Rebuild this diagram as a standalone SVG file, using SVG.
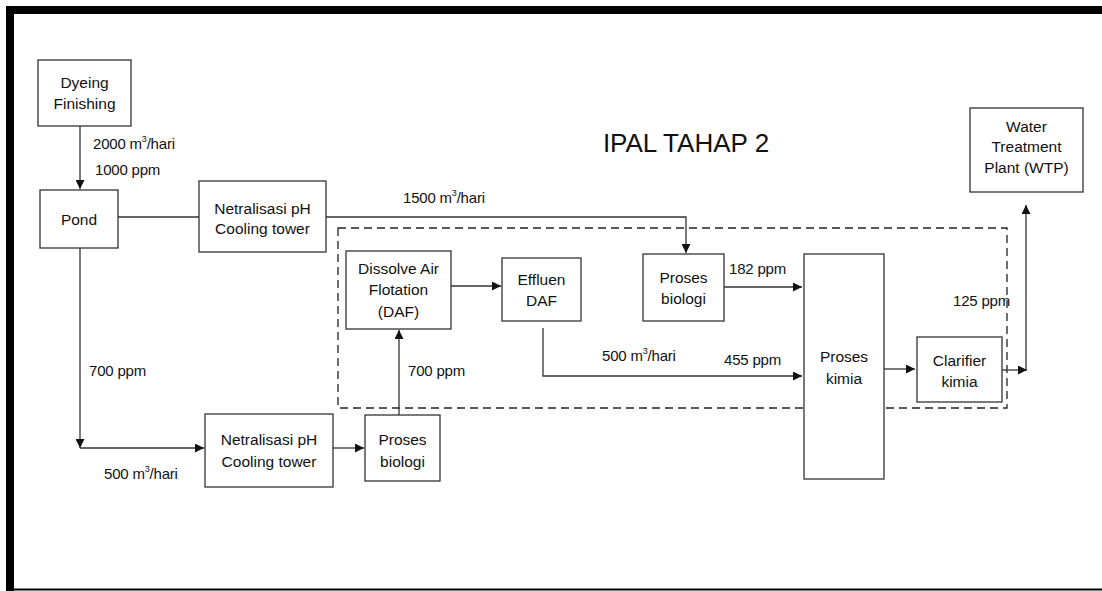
<svg xmlns="http://www.w3.org/2000/svg" width="1102" height="591" viewBox="0 0 1102 591">
<style>
  .box { fill: #fff; stroke: #333; stroke-width: 1.3; }
  .t { font-family: "Liberation Sans", Arial, sans-serif; font-size: 15.5px; fill: #111; text-anchor: middle; }
  .l { font-family: "Liberation Sans", Arial, sans-serif; font-size: 15px; fill: #111; letter-spacing: -0.2px; }
  .sup { font-size: 9px; }
  .c { fill: none; stroke: #333; stroke-width: 1.3; }
  .dash { fill: none; stroke: #222; stroke-width: 1.3; stroke-dasharray: 8 5; }
</style>
<defs>
  <marker id="arr" viewBox="0 0 10 10" refX="10" refY="5" markerWidth="9" markerHeight="9" markerUnits="userSpaceOnUse" orient="auto">
    <path d="M0,0 L10,5 L0,10 z" fill="#111"/>
  </marker>
</defs>
<rect width="1102" height="591" fill="#fff"/>
<g id="frame">
  <rect x="6" y="6" width="1096" height="8" fill="#000"/>
  <rect x="6" y="6" width="8" height="585" fill="#000"/>
  <rect x="6" y="588.5" width="1096" height="2" fill="#000"/>
</g>
<text class="t" x="686" y="152" style="font-size:26px">IPAL TAHAP 2</text>
<rect id="boundary" class="dash" x="338" y="228" width="669" height="180"/>
<g id="connectors">
  <line class="c" x1="80" y1="126" x2="80" y2="189" marker-end="url(#arr)"/>
  <line class="c" x1="118" y1="217" x2="199" y2="217"/>
  <polyline class="c" points="326,217 686,217 686,253" marker-end="url(#arr)"/>
  <line class="c" x1="80" y1="248" x2="80" y2="448" marker-end="url(#arr)"/>
  <line class="c" x1="80" y1="448" x2="204" y2="448" marker-end="url(#arr)"/>
  <line class="c" x1="333" y1="448" x2="364" y2="448" marker-end="url(#arr)"/>
  <line class="c" x1="399" y1="415" x2="399" y2="330" marker-end="url(#arr)"/>
  <line class="c" x1="451" y1="286" x2="501" y2="286" marker-end="url(#arr)"/>
  <polyline class="c" points="543,328 543,376 802,376" marker-end="url(#arr)"/>
  <line class="c" x1="724" y1="287" x2="802" y2="287" marker-end="url(#arr)"/>
  <line class="c" x1="884" y1="369" x2="915" y2="369" marker-end="url(#arr)"/>
  <line class="c" x1="1002" y1="370" x2="1027" y2="370" marker-end="url(#arr)"/>
  <line class="c" x1="1026" y1="370" x2="1026" y2="205" marker-end="url(#arr)"/>
</g>
<g id="labels">
  <text class="l" x="93" y="149">2000 m<tspan class="sup" dy="-7">3</tspan><tspan dy="7">/hari</tspan></text>
  <text class="l" x="95" y="175">1000 ppm</text>
  <text class="l" x="403" y="203">1500 m<tspan class="sup" dy="-7">3</tspan><tspan dy="7">/hari</tspan></text>
  <text class="l" x="89" y="376">700 ppm</text>
  <text class="l" x="104" y="479">500 m<tspan class="sup" dy="-7">3</tspan><tspan dy="7">/hari</tspan></text>
  <text class="l" x="408" y="376">700 ppm</text>
  <text class="l" x="602" y="361">500 m<tspan class="sup" dy="-7">3</tspan><tspan dy="7">/hari</tspan></text>
  <text class="l" x="724" y="365">455 ppm</text>
  <text class="l" x="729" y="274">182 ppm</text>
  <text class="l" x="953" y="306">125 ppm</text>
</g>
<g id="dyeing">
  <rect class="box" x="38" y="60" width="93" height="66"/>
  <text class="t" x="84.5" y="88">Dyeing</text>
  <text class="t" x="84.5" y="109">Finishing</text>
</g>
<g id="pond">
  <rect class="box" x="40" y="190" width="78" height="58"/>
  <text class="t" x="79" y="225">Pond</text>
</g>
<g id="netralisasi1">
  <rect class="box" x="199" y="181" width="127" height="71"/>
  <text class="t" x="262.5" y="214">Netralisasi pH</text>
  <text class="t" x="262.5" y="234">Cooling tower</text>
</g>
<g id="netralisasi2">
  <rect class="box" x="205" y="414" width="128" height="73"/>
  <text class="t" x="269" y="445">Netralisasi pH</text>
  <text class="t" x="269" y="467">Cooling tower</text>
</g>
<g id="biologi2">
  <rect class="box" x="365" y="415" width="75" height="66"/>
  <text class="t" x="402.5" y="445">Proses</text>
  <text class="t" x="402.5" y="467">biologi</text>
</g>
<g id="daf">
  <rect class="box" x="346" y="251" width="105" height="78"/>
  <text class="t" x="398.5" y="274">Dissolve Air</text>
  <text class="t" x="398.5" y="295">Flotation</text>
  <text class="t" x="398.5" y="317">(DAF)</text>
</g>
<g id="effluen">
  <rect class="box" x="502" y="258" width="79" height="63"/>
  <text class="t" x="541.5" y="285">Effluen</text>
  <text class="t" x="541.5" y="306">DAF</text>
</g>
<g id="biologi1">
  <rect class="box" x="643" y="254" width="81" height="67"/>
  <text class="t" x="683.5" y="283">Proses</text>
  <text class="t" x="683.5" y="304">biologi</text>
</g>
<g id="kimia">
  <rect class="box" x="804" y="254" width="80" height="225"/>
  <text class="t" x="844" y="362">Proses</text>
  <text class="t" x="844" y="384">kimia</text>
</g>
<g id="clarifier">
  <rect class="box" x="917" y="337" width="85" height="65"/>
  <text class="t" x="959.5" y="366">Clarifier</text>
  <text class="t" x="959.5" y="387">kimia</text>
</g>
<g id="wtp">
  <rect class="box" x="970" y="108" width="113" height="84"/>
  <text class="t" x="1026.5" y="132">Water</text>
  <text class="t" x="1026.5" y="152">Treatment</text>
  <text class="t" x="1026.5" y="173">Plant (WTP)</text>
</g>
</svg>
